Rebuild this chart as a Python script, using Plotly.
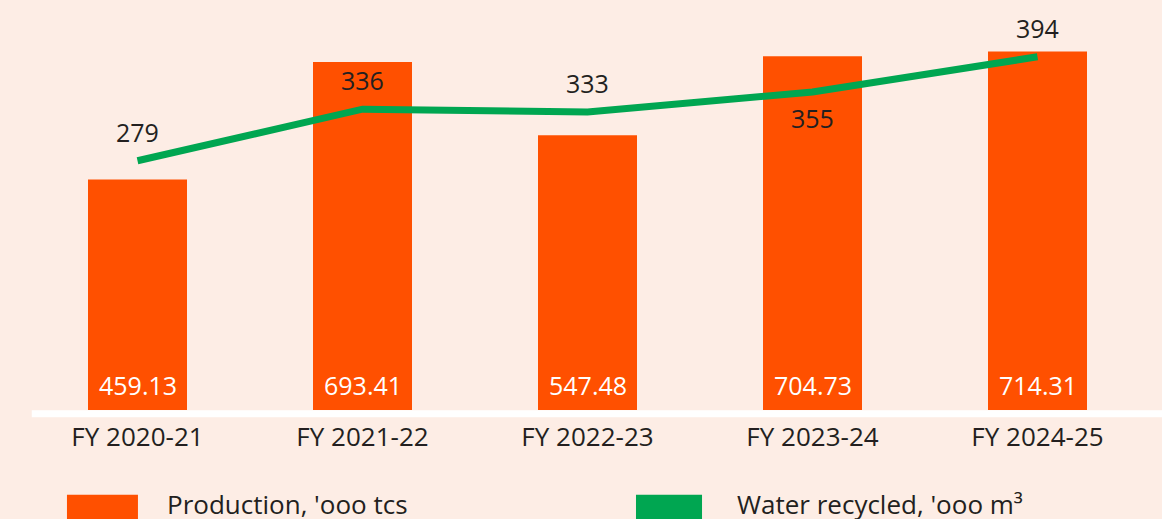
import plotly.graph_objects as go

categories = ["FY 2020-21", "FY 2021-22", "FY 2022-23", "FY 2023-24", "FY 2024-25"]
production = [459.13, 693.41, 547.48, 704.73, 714.31]
production_labels = ["459.13", "693.41", "547.48", "704.73", "714.31"]
water = [279, 336, 333, 355, 394]
water_label_pos = ["above", "above", "above", "below", "above"]

BG = "#FDEDE5"
ORANGE = "#FF5000"
GREEN = "#00A651"
TXT = "#231F20"
FONT = "Open Sans"

fig = go.Figure()
fig.add_trace(go.Bar(x=categories, y=production, marker=dict(color=ORANGE, line=dict(width=0)),
                     width=0.44, name="Production, 'ooo tcs", showlegend=False))
fig.add_trace(go.Scatter(x=categories, y=water, mode="lines", yaxis="y2",
                         line=dict(color=GREEN, width=7), name="Water recycled, 'ooo m³",
                         showlegend=False))

ann = []
for c, v, lab in zip(categories, production, production_labels):
    ann.append(dict(x=c, y=0, xref="x", yref="y", text=lab, showarrow=False,
                    yshift=25, font=dict(family=FONT, size=25, color="white")))
for c, v, pos in zip(categories, water, water_label_pos):
    ann.append(dict(x=c, y=v, xref="x", yref="y2", text=str(v), showarrow=False,
                    yshift=29 if pos == "above" else -26,
                    font=dict(family=FONT, size=25, color=TXT)))

# white baseline
shapes = [dict(type="line", xref="paper", yref="paper", x0=0.006, x1=1.02,
               y0=-0.009, y1=-0.009, line=dict(color="white", width=7))]

# custom legend
legend_items = [("Production, 'ooo tcs", ORANGE, 0.0373, 0.0631, 0.1244),
                ("Water recycled, 'ooo m³", GREEN, 0.5431, 0.0587, 0.6311)]
for name, col, x0, w, tx in legend_items:
    shapes.append(dict(type="rect", xref="paper", yref="paper", x0=x0, x1=x0 + w,
                       y0=-0.207, y1=-0.27, fillcolor=col, line=dict(width=0)))
    ann.append(dict(x=tx, y=-0.229, xref="paper", yref="paper", text=name,
                    showarrow=False, xanchor="left", yanchor="middle",
                    font=dict(family=FONT, size=26, color=TXT)))

fig.update_layout(
    width=1162, height=519,
    margin=dict(l=25, r=12, t=0, b=109),
    paper_bgcolor=BG, plot_bgcolor=BG,
    bargap=0.56,
    xaxis=dict(showgrid=False, showline=False, ticks="", ticklabelstandoff=9,
               tickfont=dict(family=FONT, size=26, color=TXT), zeroline=False),
    yaxis=dict(range=[0, 817], visible=False, showgrid=False, zeroline=False),
    yaxis2=dict(range=[3.3, 456.8], overlaying="y", visible=False, showgrid=False, zeroline=False),
    annotations=ann, shapes=shapes, showlegend=False,
)

fig.write_html("out.html", config={"displayModeBar": False},
               post_script="document.body.style.margin='0';document.body.style.background='%s';" % BG)
